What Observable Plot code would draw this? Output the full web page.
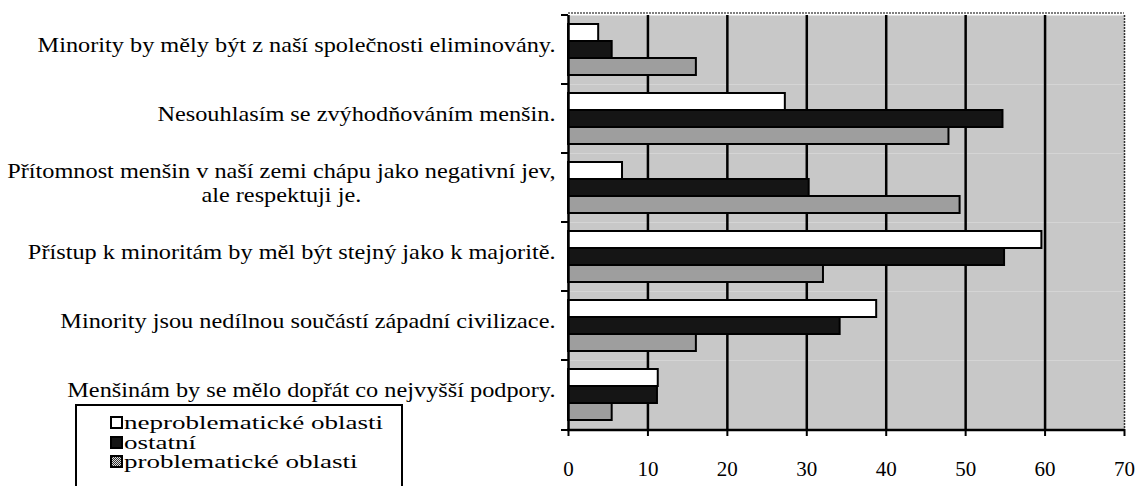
<!DOCTYPE html>
<html>
<head>
<meta charset="utf-8">
<script src="https://cdn.jsdelivr.net/npm/d3@7"></script>
<script src="https://cdn.jsdelivr.net/npm/@observablehq/plot@0.6"></script>
<style>
  html, body { margin: 0; padding: 0; background: #fff; overflow: hidden; }
  #wrap { position: relative; width: 1138px; height: 486px; }
  #legend {
    position: absolute; left: 75px; top: 404px; width: 328px; height: 100px;
    border: 2px solid #000; box-sizing: border-box; background: #fff;
    font-family: "Liberation Serif", serif; font-size: 18.8px; line-height: 21px;
    padding: 7px 0 0 33px; color: #000;
  }
  #legend .row { display: flex; align-items: center; white-space: nowrap; height: 19.5px; }
  #legend svg { margin-right: 1px; flex: none; }
  #legend .lab { display: inline-block; transform: scaleX(1.44); transform-origin: left center; }
</style>
</head>
<body>
<div id="wrap"><div id="legend"></div></div>
<script>
const questions = [
  "Minority by měly být z naší společnosti eliminovány.",
  "Nesouhlasím se zvýhodňováním menšin.",
  "Přítomnost menšin v naší zemi chápu jako negativní jev,\nale respektuji je.",
  "Přístup k minoritám by měl být stejný jako k majoritě.",
  "Minority jsou nedílnou součástí západní civilizace.",
  "Menšinám by se mělo dopřát co nejvyšší podpory."
];
const series = ["neproblematické oblasti", "ostatní", "problematické oblasti"];
const neproblematicke = [3.8, 27.3, 6.8, 59.6, 38.8, 11.3];
const ostatni = [5.5, 54.7, 30.3, 54.9, 34.2, 11.2];
const problematicke = [16.1, 47.9, 49.3, 32.1, 16.1, 5.5];
const xTicks = [0, 10, 20, 30, 40, 50, 60, 70];
const seriesColors = ["#ffffff", "#151515", "#9e9e9e"];

const valuesBySeries = [neproblematicke, ostatni, problematicke];
const data = [];
questions.forEach((q, i) => {
  series.forEach((s, j) => data.push({question: q, series: s, value: valuesBySeries[j][i]}));
});

const font = '"Liberation Serif", serif';

const chart = Plot.plot({
  width: 1138,
  height: 486,
  marginLeft: 568,
  marginRight: 14,
  marginTop: 13,
  marginBottom: 56,
  style: {fontFamily: font, fontSize: "21px", background: "transparent", color: "#000"},
  x: {domain: [0, 70], ticks: xTicks, tickSize: 7, tickPadding: 25, label: null, tickFormat: d => String(d)},
  fy: {domain: questions, padding: 0, axis: null},
  y: {domain: series, paddingInner: 0, paddingOuter: 0.5, axis: null},
  color: {domain: series, range: seriesColors},
  marks: [
    Plot.frame({fill: "#c8c8c8", stroke: null}),
    Plot.gridX(xTicks.filter(d => d > 0 && d < 70), {stroke: "#000", strokeOpacity: 1, strokeWidth: 2.5}),
    Plot.ruleX([70], {stroke: "#333", strokeWidth: 1.5, strokeDasharray: "2,1"}),
    Plot.barX(data, {x: "value", y: "series", fy: "question", fill: "series", stroke: "#000", strokeWidth: 2}),
    Plot.ruleX([0], {stroke: "#000", strokeWidth: 2.5}),
    Plot.text(questions, {fy: d => d, text: d => d, frameAnchor: "left", textAnchor: "end", dx: -13, dy: -6, lineHeight: 1.12, fontSize: 21.5, fill: "#000"})
  ]
});

document.getElementById("wrap").prepend(chart);

// axis line, left ticks, top border, tick styling (derived from Plot's scales)
const svg = d3.select(chart);
const xs = chart.scale("x");
const fys = chart.scale("fy");
const x0 = xs.apply(0), x1 = xs.apply(70);
const yTop = fys.range[0], yBot = fys.range[1];
const g = svg.append("g");
g.append("line").attr("x1", x0).attr("x2", x1).attr("y1", yTop).attr("y2", yTop)
  .attr("stroke", "#555").attr("stroke-width", 1.5).attr("stroke-dasharray", "2,1");
g.append("line").attr("x1", x0 - 1).attr("x2", x1 + 1).attr("y1", yBot).attr("y2", yBot)
  .attr("stroke", "#000").attr("stroke-width", 2.5);
const bounds = questions.map(q => fys.apply(q)).concat([yBot]);
bounds.forEach(y => {
  g.append("line").attr("x1", x0 - 7).attr("x2", x0).attr("y1", y).attr("y2", y)
    .attr("stroke", "#000").attr("stroke-width", 2);
});
svg.selectAll('[aria-label="x-axis tick"] path').attr("stroke-width", 2).attr("stroke", "#000");

// category labels: center continuation lines under the first, then widen glyphs
svg.selectAll('[aria-label="text"] text').each(function() {
  const tspans = this.querySelectorAll("tspan");
  if (tspans.length > 1) {
    const w = tspans[0].getComputedTextLength();
    for (let k = 1; k < tspans.length; k++) {
      tspans[k].setAttribute("x", -w / 2);
      tspans[k].style.textAnchor = "middle";
    }
  }
  const t = this.getAttribute("transform") || "";
  this.setAttribute("transform", `${t} scale(1.13,1)`);
});

// legend
const legend = d3.select("#legend");
series.forEach((s, j) => {
  const row = legend.append("div").attr("class", "row");
  const sw = row.append("svg").attr("width", 13).attr("height", 13);
  if (j === 2) {
    const pat = sw.append("defs").append("pattern").attr("id", "chk").attr("width", 2).attr("height", 2)
      .attr("patternUnits", "userSpaceOnUse");
    pat.append("rect").attr("width", 2).attr("height", 2).attr("fill", "#ddd");
    pat.append("rect").attr("width", 1).attr("height", 1).attr("fill", "#333");
    pat.append("rect").attr("x", 1).attr("y", 1).attr("width", 1).attr("height", 1).attr("fill", "#333");
    sw.append("rect").attr("x", 1).attr("y", 1).attr("width", 11).attr("height", 11)
      .attr("fill", "url(#chk)").attr("stroke", "#000").attr("stroke-width", 2);
  } else {
    sw.append("rect").attr("x", 1).attr("y", 1).attr("width", 11).attr("height", 11)
      .attr("fill", seriesColors[j]).attr("stroke", "#000").attr("stroke-width", 2);
  }
  row.append("span").attr("class", "lab").text(s);
});
</script>
</body>
</html>
